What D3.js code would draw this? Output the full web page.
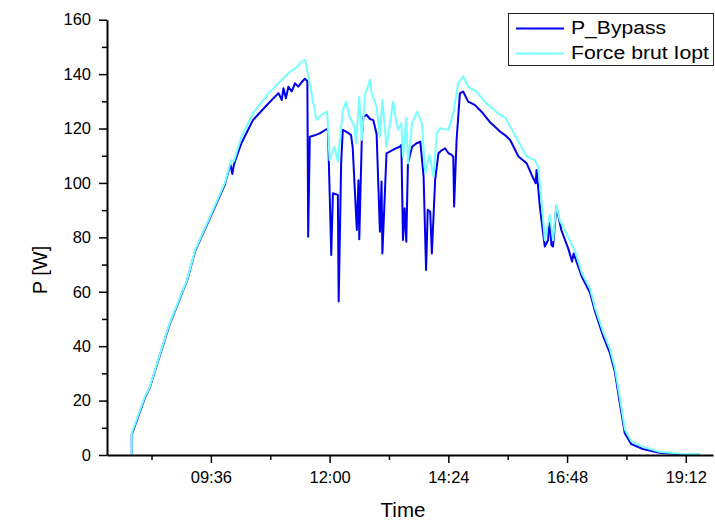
<!DOCTYPE html>
<html>
<head>
<meta charset="utf-8">
<script src="https://cdn.jsdelivr.net/npm/d3@7"></script>
<style>
  body { margin: 0; background: #fff; }
  svg { display: block; }
  text { font-family: Arial, "Liberation Sans", sans-serif; fill: #000; }
</style>
</head>
<body>
<svg id="chart" width="715" height="520"></svg>
<script>
// P_Bypass series (dark blue)
const bypassTimes = ['08:00','08:00','08:16','08:22','08:32','08:46','08:58','09:07','09:17','09:35',
  '09:53','09:58','10:00','10:02','10:04','10:07','10:13','10:27','10:46','10:58',
  '11:02','11:04','11:07','11:10','11:14','11:18','11:22','11:26','11:30','11:33',
  '11:34','11:36','11:42','11:48','11:55','11:58','12:02','12:04','12:10','12:11',
  '12:14','12:16','12:22','12:26','12:28','12:33','12:35','12:36','12:39','12:41',
  '12:45','12:49','12:53','12:57','13:01','13:03','13:04','13:09','13:13','13:19',
  '13:25','13:27','13:29','13:31','13:33','13:35','13:40','13:45','13:50','13:54',
  '13:57','13:59','14:02','14:04','14:08','14:12','14:16','14:20','14:24','14:28',
  '14:30','14:31','14:34','14:38','14:42','14:48','14:56','15:06','15:14','15:27',
  '15:33','15:39','15:49','15:59','16:07','16:10','16:11','16:15','16:21','16:25',
  '16:27','16:29','16:31','16:35','16:41','16:50','16:54','16:56','17:06','17:16',
  '17:22','17:32','17:40','17:46','17:52','17:58','18:06','18:20','18:40','19:05','19:29'];
const bypassValues = [0, 7.5, 21, 24.8, 34.6, 48, 57.2, 64, 75, 87.2,
  99.4, 105, 106.5, 103.3, 106.8, 109.5, 114.6, 123.1, 129.3, 133,
  130.5, 134.8, 131.1, 135.4, 133.6, 136.6, 135.4, 137, 138.3, 137.5,
  80.2, 117, 117.5, 118.2, 119.5, 120, 73.5, 96.2, 95.6, 56.4,
  107.2, 119.5, 118.5, 117.6, 113, 82.7, 101, 79.3, 115.8, 124.4,
  125, 123.5, 123.1, 118, 82.1, 100.5, 74.1, 110.9, 111.5, 112.5,
  113.3, 114, 79, 90.7, 78.4, 107.2, 113.3, 114.5, 115.2, 102.3,
  68, 90.1, 89.4, 74.1, 101.1, 110.9, 112, 112.7, 111, 110.3,
  109.7, 91.3, 115.8, 132.9, 133.6, 129.9, 128.7, 125.6, 122.5, 118.8,
  117.5, 115.8, 109.7, 107.2, 101.7, 99.9, 104.8, 91.3, 76.6, 79,
  87, 77.2, 76.6, 91.3, 82.7, 75.4, 71.1, 74.1, 65.5, 59.5,
  52.7, 43.5, 37.4, 30.6, 19, 8, 4, 2.2, 0.8, 0.3, 0.2];

// Force brut Iopt series (light cyan)
const ioptTimes = ['08:00','08:00','08:16','08:22','08:32','08:46','08:58','09:07','09:17','09:35',
  '09:53','09:59','10:01','10:04','10:07','10:13','10:27','10:46','11:02','11:12',
  '11:20','11:26','11:30','11:31','11:44','11:50','11:57','12:00','12:06','12:10',
  '12:16','12:20','12:24','12:30','12:32','12:36','12:39','12:43','12:49','12:51',
  '12:57','13:01','13:04','13:09','13:15','13:17','13:21','13:23','13:27','13:29',
  '13:33','13:35','13:40','13:46','13:52','13:56','14:01','14:06','14:10','14:14',
  '14:24','14:30','14:36','14:42','14:48','14:58','15:10','15:27','15:33','15:39',
  '15:49','15:59','16:09','16:13','16:17','16:21','16:27','16:31','16:35','16:39',
  '16:48','16:58','17:06','17:16','17:22','17:32','17:40','17:46','17:52','17:58',
  '18:06','18:20','18:40','19:05','19:29'];
const ioptValues = [0, 8, 21.4, 25.1, 34.9, 48.4, 57.6, 64.3, 75.4, 87.6,
  100, 106.6, 108.4, 108, 110.9, 117, 125.6, 133, 137.9, 140.9,
  142.5, 144.6, 145.2, 144.5, 123.1, 125, 126.2, 108.4, 113.3, 107.8,
  126.8, 129.9, 124.4, 120.7, 114.6, 131.7, 115.8, 132.3, 137.9, 133,
  128, 117, 130.5, 113.3, 125.6, 129.9, 122, 119.5, 121.9, 109.7,
  123.8, 107.2, 121.9, 126.2, 121.9, 103.6, 110.3, 102.3, 118.3, 120.1,
  119.5, 125.6, 136.6, 139.3, 135.4, 133.6, 129.3, 125, 124, 120.7,
  115.2, 109.7, 108.4, 106, 93.7, 79, 88.2, 79, 91.9, 86.4,
  80.9, 74.7, 66.8, 61, 54, 45, 39, 32, 21, 9.5,
  5, 3, 1.2, 0.5, 0.3];

const xTicks = ['09:36', '12:00', '14:24', '16:48', '19:12'];
const xMinorTicks = ['08:24', '10:48', '13:12', '15:36', '18:00'];
const yTicks = [0, 20, 40, 60, 80, 100, 120, 140, 160];
const yMinorTicks = [10, 30, 50, 70, 90, 110, 130, 150];

const parseTime = d3.timeParse('%H:%M');
const fmt = d3.timeFormat('%H:%M');

const svg = d3.select('#chart');
const plot = { left: 107, right: 713, top: 19.7, bottom: 455 };

const x = d3.scaleTime()
  .domain([parseTime('07:30'), parseTime('19:45')])
  .range([plot.left, plot.right]);
const y = d3.scaleLinear()
  .domain([0, 160])
  .range([plot.bottom, plot.top]);

const toPoints = (times, values) => times.map((t, i) => ({ t: parseTime(t), v: values[i] }));
const series = [
  { name: 'P_Bypass', color: '#0000ee', points: toPoints(bypassTimes, bypassValues) },
  { name: 'Force brut Iopt', color: '#77ffff', points: toPoints(ioptTimes, ioptValues) }
];

const line = d3.line()
  .x(d => x(d.t))
  .y(d => y(d.v));

// data lines, cyan drawn over the blue one
series.forEach(s => {
  svg.append('path')
    .datum(s.points)
    .attr('fill', 'none')
    .attr('stroke', s.color)
    .attr('stroke-width', 2)
    .attr('stroke-linejoin', 'round')
    .attr('d', line);
});

// minor ticks first, then major axes on top
svg.append('g')
  .attr('transform', `translate(0,${plot.bottom})`)
  .call(d3.axisBottom(x).tickValues(xMinorTicks.map(parseTime)).tickSize(5).tickSizeOuter(0).tickFormat(''))
  .call(g => g.select('.domain').remove())
  .call(g => g.selectAll('line').attr('stroke-width', 1.5));
svg.append('g')
  .attr('transform', `translate(${plot.left},0)`)
  .call(d3.axisLeft(y).tickValues(yMinorTicks).tickSize(5).tickSizeOuter(0).tickFormat(''))
  .call(g => g.select('.domain').remove())
  .call(g => g.selectAll('line').attr('stroke-width', 1.5));

const xAxis = svg.append('g')
  .attr('transform', `translate(0,${plot.bottom})`)
  .call(d3.axisBottom(x).tickValues(xTicks.map(parseTime)).tickSize(8).tickSizeOuter(0).tickPadding(8).tickFormat(fmt));
const yAxis = svg.append('g')
  .attr('transform', `translate(${plot.left},0)`)
  .call(d3.axisLeft(y).tickValues(yTicks).tickSize(8).tickSizeOuter(0).tickPadding(8));

[xAxis, yAxis].forEach(g => {
  g.select('.domain').attr('stroke-width', 2);
  g.selectAll('.tick line').attr('stroke-width', 1.5);
  g.selectAll('text')
    .style('font-family', 'Arial, "Liberation Sans", sans-serif')
    .style('font-size', '16.5px')
    .attr('fill', '#000');
});

// axis titles
svg.append('text')
  .attr('x', 403)
  .attr('y', 517)
  .attr('text-anchor', 'middle')
  .style('font-size', '20.5px')
  .text('Time');
svg.append('text')
  .attr('transform', 'translate(47,270) rotate(-90)')
  .attr('text-anchor', 'middle')
  .style('font-size', '20px')
  .text('P [W]');

// legend
const legend = svg.append('g').classed('legend', true);
legend.append('rect')
  .attr('x', 508.5)
  .attr('y', 13.5)
  .attr('width', 205)
  .attr('height', 52)
  .attr('fill', '#fff')
  .attr('stroke', '#222')
  .attr('stroke-width', 1);

const legendWidths = [95, 138];
series.forEach((s, i) => {
  const ly = 28.5 + i * 25;
  legend.append('line')
    .attr('x1', 516)
    .attr('x2', 564)
    .attr('y1', ly)
    .attr('y2', ly)
    .attr('stroke', s.color)
    .attr('stroke-width', 2);
  legend.append('text')
    .attr('x', 571)
    .attr('y', ly + 5.5)
    .attr('textLength', legendWidths[i])
    .attr('lengthAdjust', 'spacingAndGlyphs')
    .style('font-size', '18px')
    .text(s.name);
});
</script>
</body>
</html>
